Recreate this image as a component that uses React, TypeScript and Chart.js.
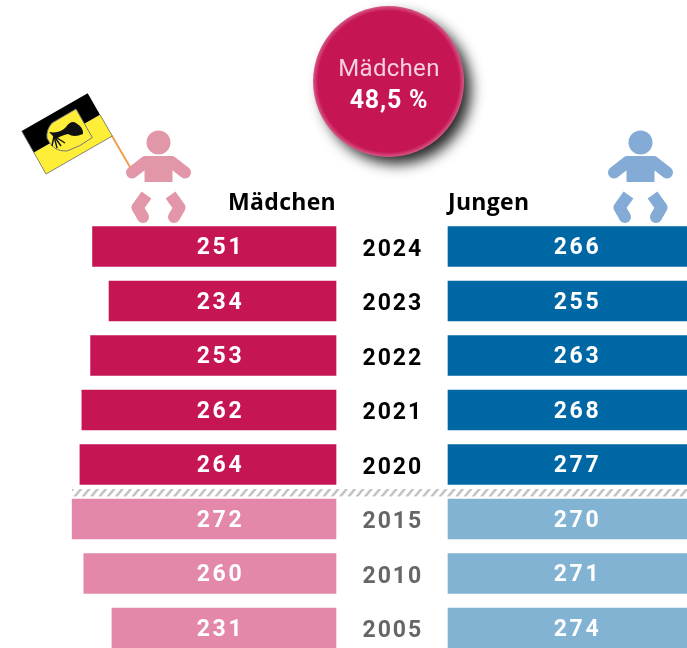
import React, { useEffect, useRef } from "react";
import { Chart, registerables } from "chart.js";

Chart.register(...registerables);

const years = ["2024", "2023", "2022", "2021", "2020", "2015", "2010", "2005"];
const girls = [251, 234, 253, 262, 264, 272, 260, 231];
const boys = [266, 255, 263, 268, 277, 270, 271, 274];
const recentCount = 5;
const shareLabel = "Mädchen";
const shareValue = "48,5 %";

const FONT = "Roboto, 'Noto Sans', sans-serif";
const HEAD_FONT = "'Open Sans', Roboto, sans-serif";
const PX_PER_UNIT = 0.97;
const W = 687;
const H = 648;
const GIRL_ZERO = 336;
const BOY_ZERO = 448;
const GIRL_DARK = "#C61555";

function baby(ctx: CanvasRenderingContext2D, cx: number, color: string) {
  ctx.save();
  ctx.fillStyle = color;
  ctx.strokeStyle = color;
  ctx.beginPath();
  ctx.arc(cx, 142.5, 12, 0, Math.PI * 2);
  ctx.fill();
  ctx.fillRect(cx - 14, 156, 28, 26);
  ctx.lineJoin = "round";
  for (const s of [-1, 1]) {
    ctx.lineWidth = 12;
    ctx.lineCap = "round";
    ctx.beginPath();
    ctx.moveTo(cx + s * 9, 162);
    ctx.lineTo(cx + s * 13, 162);
    ctx.lineTo(cx + s * 26.5, 172.5);
    ctx.stroke();
    ctx.fillRect(cx + (s < 0 ? -14 : 8), 156, 6, 12);
    // leg
    ctx.lineWidth = 12;
    ctx.lineCap = "butt";
    ctx.beginPath();
    ctx.moveTo(cx + s * 12, 195);
    ctx.lineTo(cx + s * 21, 207.5);
    ctx.lineTo(cx + s * 15.5, 217);
    ctx.stroke();
    ctx.beginPath();
    ctx.arc(cx + s * 15.5, 217, 6, 0, Math.PI * 2);
    ctx.fill();
  }
  ctx.restore();
}

function flag(ctx: CanvasRenderingContext2D) {
  ctx.save();
  ctx.strokeStyle = "#F0A050";
  ctx.lineWidth = 2;
  ctx.beginPath();
  ctx.moveTo(112, 136);
  ctx.lineTo(130, 167);
  ctx.stroke();

  ctx.fillStyle = "#FFEE38";
  ctx.beginPath();
  ctx.moveTo(33.8, 152.5);
  ctx.lineTo(100, 114.7);
  ctx.lineTo(112.3, 136);
  ctx.lineTo(46, 174);
  ctx.closePath();
  ctx.fill();
  ctx.fillStyle = "#000";
  ctx.beginPath();
  ctx.moveTo(21.7, 131);
  ctx.lineTo(87.7, 93.3);
  ctx.lineTo(100, 114.7);
  ctx.lineTo(33.8, 152.5);
  ctx.closePath();
  ctx.fill();
  ctx.strokeStyle = "#666";
  ctx.lineWidth = 0.8;
  ctx.beginPath();
  ctx.moveTo(21.7, 131);
  ctx.lineTo(46, 174);
  ctx.lineTo(112.3, 136);
  ctx.lineTo(100, 114.7);
  ctx.stroke();

  // shield
  ctx.fillStyle = "#FFEE38";
  ctx.strokeStyle = "#777";
  ctx.lineWidth = 1;
  ctx.beginPath();
  ctx.moveTo(76, 109);
  ctx.lineTo(92.3, 137.5);
  ctx.quadraticCurveTo(80, 147, 67, 151);
  ctx.quadraticCurveTo(53, 152, 47, 138);
  ctx.quadraticCurveTo(46, 130, 52, 123);
  ctx.closePath();
  ctx.fill();
  ctx.stroke();

  // horn
  ctx.fillStyle = "#111";
  ctx.beginPath();
  ctx.moveTo(49, 132);
  ctx.quadraticCurveTo(60, 134, 66, 127);
  ctx.quadraticCurveTo(71, 120, 76, 123);
  ctx.quadraticCurveTo(84, 128, 83, 134);
  ctx.quadraticCurveTo(74, 138, 68, 134);
  ctx.quadraticCurveTo(60, 136, 56, 139);
  ctx.closePath();
  ctx.fill();
  ctx.strokeStyle = "#111";
  ctx.lineWidth = 1.4;
  for (const [a, b] of [[52, 146], [57, 148], [61, 146], [65, 143]]) {
    ctx.beginPath();
    ctx.moveTo(54, 136);
    ctx.lineTo(a, b);
    ctx.stroke();
  }
  ctx.restore();
}

function hatch(ctx: CanvasRenderingContext2D) {
  ctx.save();
  ctx.beginPath();
  ctx.rect(72, 489, W - 72, 7.5);
  ctx.clip();
  ctx.strokeStyle = "#C4C4C4";
  ctx.lineWidth = 2.6;
  for (let x = 66; x < W + 8; x += 8.3) {
    ctx.beginPath();
    ctx.moveTo(x, 497);
    ctx.lineTo(x + 7.5, 488);
    ctx.stroke();
  }
  ctx.restore();
}

function bubble(ctx: CanvasRenderingContext2D) {
  const cx = 388.5;
  const cy = 81.5;
  const r = 75.5;
  ctx.save();
  ctx.shadowColor = "rgba(0,0,0,0.85)";
  ctx.shadowBlur = 14;
  ctx.shadowOffsetX = 8;
  ctx.shadowOffsetY = 8;
  ctx.fillStyle = GIRL_DARK;
  ctx.beginPath();
  ctx.arc(cx, cy, r - 1, 0, Math.PI * 2);
  ctx.fill();
  ctx.restore();
  const g = ctx.createRadialGradient(cx, cy, r - 5, cx, cy, r);
  g.addColorStop(0, GIRL_DARK);
  g.addColorStop(1, "#D65A88");
  ctx.save();
  ctx.fillStyle = g;
  ctx.beginPath();
  ctx.arc(cx, cy, r, 0, Math.PI * 2);
  ctx.fill();
  ctx.textAlign = "center";
  ctx.textBaseline = "alphabetic";
  ctx.fillStyle = "#F6CFDD";
  ctx.font = `400 24px ${FONT}`;
  (ctx as any).letterSpacing = "0.3px";
  ctx.fillText(shareLabel, cx + 0.5, 76);
  ctx.fillStyle = "#FFFFFF";
  ctx.font = `700 25px ${FONT}`;
  (ctx as any).letterSpacing = "0.8px";
  ctx.fillText(shareValue, cx + 0.5, 108);
  ctx.restore();
}

const decorations = {
  id: "decorations",
  beforeDraw(chart: any) {
    (chart.ctx as any).letterSpacing = "2px";
  },
  afterDatasetsDraw(chart: any) {
    const ctx: CanvasRenderingContext2D = chart.ctx;
    const y = chart.scales.y;
    ctx.save();
    ctx.textAlign = "center";
    ctx.textBaseline = "middle";
    ctx.fillStyle = "#FFFFFF";
    ctx.font = `700 23px ${FONT}`;
    (ctx as any).letterSpacing = "2.6px";
    years.forEach((_, i) => {
      const py = y.getPixelForValue(i) + 2;
      ctx.fillText(String(girls[i]), 220.5, py);
      ctx.fillText(String(boys[i]), 577.5, py);
    });
    ctx.restore();

    ctx.save();
    ctx.fillStyle = "#000";
    ctx.font = `700 23px ${HEAD_FONT}`;
    (ctx as any).letterSpacing = "0.3px";
    ctx.textBaseline = "alphabetic";
    ctx.textAlign = "right";
    ctx.fillText(chart.data.datasets[0].label, 336, 210);
    ctx.textAlign = "left";
    ctx.fillText(chart.data.datasets[1].label, 448, 210);
    ctx.restore();

    hatch(ctx);
    baby(ctx, 158.5, "#E297A9");
    baby(ctx, 640.5, "#84ABD5");
    flag(ctx);
    bubble(ctx);
  },
};

export default function App() {
  const ref = useRef<HTMLCanvasElement>(null);
  useEffect(() => {
    document.body.style.margin = "0";
    document.body.style.background = "#fff";
    const chart = new Chart(ref.current!, {
      type: "bar",
      data: {
        labels: years,
        datasets: [
          {
            label: "Mädchen",
            data: girls,
            xAxisID: "xF",
            backgroundColor: (c: any) => (c.dataIndex < recentCount ? GIRL_DARK : "#E388AA"),
            grouped: false,
            barThickness: 40,
            clip: false,
          },
          {
            label: "Jungen",
            data: boys,
            xAxisID: "xM",
            backgroundColor: (c: any) => (c.dataIndex < recentCount ? "#0067A5" : "#82B3D3"),
            grouped: false,
            barThickness: 40,
            clip: false,
          },
        ],
      } as any,
      options: {
        indexAxis: "y",
        responsive: false,
        animation: false,
        layout: { padding: { top: 246.5, bottom: 20, left: 0, right: 0 } },
        plugins: { legend: { display: false }, tooltip: { enabled: false }, title: { display: false } },
        scales: {
          xF: {
            type: "linear",
            display: false,
            reverse: true,
            min: (GIRL_ZERO - W) / PX_PER_UNIT,
            max: GIRL_ZERO / PX_PER_UNIT,
            grid: { display: false },
          },
          xM: {
            type: "linear",
            display: false,
            min: -BOY_ZERO / PX_PER_UNIT,
            max: (W - BOY_ZERO) / PX_PER_UNIT,
            grid: { display: false },
          },
          y: {
            type: "category",
            offset: false,
            position: { xM: -25.5 },
            grid: { display: false, drawTicks: false },
            border: { display: false },
            ticks: {
              autoSkip: false,
              padding: 0,
              labelOffset: 3.5,
              font: { family: FONT, size: 23, weight: "bold" },
              color: (c: any) => (c.index < recentCount ? "#000000" : "#666666"),
            },
          },
        },
      } as any,
      plugins: [decorations],
    } as any);
    return () => chart.destroy();
  }, []);
  return <canvas ref={ref} width={W} height={H} style={{ display: "block", width: W, height: H }} />;
}
